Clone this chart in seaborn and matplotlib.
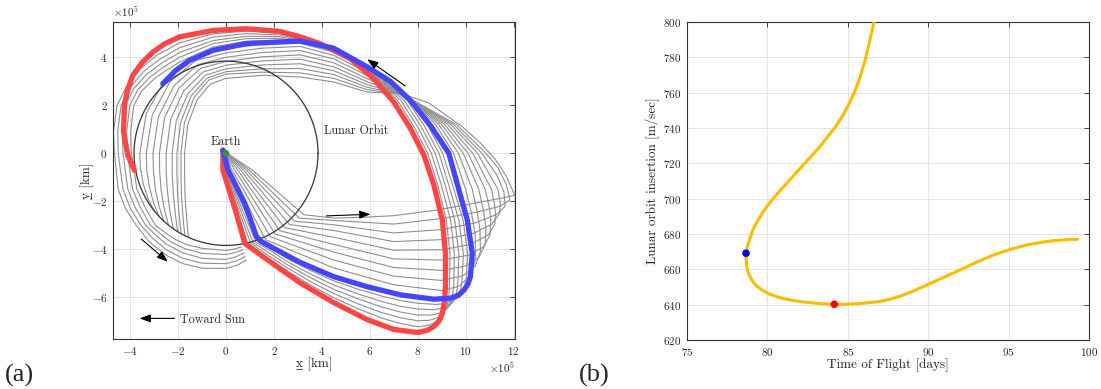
import numpy as np
import pandas as pd
import matplotlib
matplotlib.use("Agg")
import matplotlib.pyplot as plt
import seaborn as sns
from matplotlib.ticker import ScalarFormatter

# ---------------- panel (a): trajectories, units of 1e5 km ----------------
red_x = [-0.13, -0.13, 0.43, 0.78, 1.55, 2.52, 3.10, 4.49, 5.89, 7.00, 7.98, 8.40, 8.67, 8.90, 9.03,
         9.12, 9.16, 9.16, 9.03, 8.67, 8.26, 7.70, 7.00, 6.16, 5.19, 3.93, 3.10, 2.25, 0.85, -0.54,
         -1.94, -2.55, -3.05, -3.50, -3.89, -4.12, -4.24, -4.28, -4.10, -3.82]
red_y = [0.13, -0.70, -2.50, -3.75, -4.31, -5.00, -5.40, -6.22, -6.93, -7.34, -7.47, -7.38, -7.22, -6.98, -6.67,
         -6.15, -5.56, -4.17, -2.78, -1.30, -0.08, 1.03, 2.14, 3.11, 3.94, 4.57, 4.85, 5.08, 5.19, 5.12,
         4.85, 4.57, 4.22, 3.78, 3.25, 2.60, 2.00, 0.89, -0.08, -0.71]

blue_x = [-0.13, 0.08, 0.78, 1.27, 1.48, 2.25, 3.10, 4.49, 5.89, 7.28, 8.67, 9.37, 9.70, 9.93, 10.10, 10.20,
          10.28, 10.07, 9.72, 9.30, 8.54, 7.70, 6.86, 5.89, 4.49, 3.10, 2.25, 0.85, -0.54, -1.52, -2.10, -2.64]
blue_y = [0.13, -0.69, -2.08, -3.47, -3.68, -4.10, -4.55, -5.14, -5.56, -5.90, -6.08, -6.04, -5.92, -5.70, -5.45, -5.14,
          -4.17, -2.78, -1.53, 0.00, 1.15, 2.20, 3.00, 3.60, 4.38, 4.68, 4.64, 4.57, 4.29, 3.87, 3.45, 2.90]

gray_A1 = [(-0.10, 0.10), (-0.10, -0.70), (0.48, -2.45), (0.90, -3.74), (1.60, -4.30), (2.50, -4.86),
           (3.50, -5.48), (4.50, -6.02), (5.50, -6.47), (6.50, -6.87), (7.30, -7.10), (8.00, -7.23),
           (8.45, -7.17), (8.79, -7.02), (9.18, -6.51), (9.30, -6.00), (9.33, -5.49), (9.35, -4.20),
           (9.20, -2.80), (8.83, -1.30), (8.42, 0.00), (7.85, 1.10), (7.16, 2.20), (6.16, 3.17),
           (5.19, 3.95), (3.93, 4.55), (2.25, 5.00), (0.85, 5.09), (-0.54, 4.98), (-1.94, 4.60),
           (-2.90, 4.08), (-3.60, 3.50), (-4.15, 2.80), (-4.55, 2.00), (-4.70, 0.90), (-4.66, 0.00),
           (-4.50, -1.50), (-4.20, -2.30), (-3.75, -3.00), (-3.20, -3.70), (-2.50, -4.25), (-1.80, -4.60),
           (-1.00, -4.79), (0.00, -4.80), (0.50, -4.65), (0.85, -4.45)]
gray_A2 = [(-0.10, 0.10), (-0.07, -0.70), (0.54, -2.40), (1.02, -3.73), (1.70, -4.22), (2.50, -4.74),
           (3.50, -5.33), (4.50, -5.85), (5.50, -6.27), (6.50, -6.64), (7.30, -6.86), (8.00, -6.98),
           (8.50, -6.96), (8.90, -6.83), (9.33, -6.35), (9.46, -5.90), (9.51, -5.42), (9.53, -4.20),
           (9.38, -2.80), (8.98, -1.30), (8.57, 0.00), (8.00, 1.10), (7.30, 2.20), (6.16, 3.23),
           (5.19, 3.96), (3.93, 4.53), (2.25, 4.93), (0.85, 4.99), (-0.54, 4.84), (-1.94, 4.40),
           (-2.80, 3.90), (-3.45, 3.40), (-4.00, 2.75), (-4.38, 2.00), (-4.52, 0.90), (-4.50, 0.00),
           (-4.30, -1.50), (-4.00, -2.28), (-3.55, -3.00), (-3.05, -3.55), (-2.50, -4.02), (-1.80, -4.38),
           (-1.00, -4.58), (0.00, -4.60), (0.45, -4.48), (0.80, -4.30)]
gray_A3 = [(-0.10, 0.10), (-0.04, -0.70), (0.60, -2.35), (1.13, -3.72), (1.80, -4.15), (2.50, -4.61),
           (3.50, -5.17), (4.50, -5.67), (5.50, -6.06), (6.50, -6.41), (7.30, -6.62), (8.00, -6.74),
           (8.60, -6.74), (9.02, -6.63), (9.48, -6.19), (9.63, -5.78), (9.68, -5.35), (9.72, -4.20),
           (9.55, -2.80), (9.14, -1.30), (8.73, 0.00), (8.15, 1.10), (7.44, 2.20), (6.16, 3.29),
           (5.19, 3.97), (3.93, 4.51), (2.25, 4.86), (0.85, 4.88), (-0.54, 4.70), (-1.94, 4.20),
           (-2.70, 3.75), (-3.30, 3.30), (-3.85, 2.70), (-4.20, 2.00), (-4.33, 0.90), (-4.30, 0.00),
           (-4.10, -1.50), (-3.80, -2.25), (-3.35, -3.00), (-2.90, -3.45), (-2.50, -3.78), (-1.80, -4.15),
           (-1.00, -4.38), (0.00, -4.42), (0.40, -4.32), (0.75, -4.15)]
gray_A4 = [(-0.10, 0.10), (-0.01, -0.70), (0.66, -2.30), (1.25, -3.71), (1.90, -4.08), (2.50, -4.48),
           (3.50, -5.02), (4.50, -5.49), (5.50, -5.86), (6.50, -6.18), (7.30, -6.38), (8.00, -6.49),
           (8.70, -6.52), (9.14, -6.43), (9.63, -6.02), (9.80, -5.66), (9.85, -5.28), (9.91, -4.20),
           (9.72, -2.80), (9.29, -1.30), (8.89, 0.00), (8.30, 1.10), (7.57, 2.20), (6.16, 3.35),
           (5.19, 3.98), (3.93, 4.49), (2.25, 4.79), (0.85, 4.78), (-0.54, 4.57), (-1.94, 4.00),
           (-2.60, 3.60), (-3.15, 3.20), (-3.68, 2.65), (-4.02, 2.00), (-4.15, 0.90), (-4.12, 0.00),
           (-3.90, -1.50), (-3.58, -2.25), (-3.15, -3.00), (-2.75, -3.35), (-2.30, -3.70), (-1.70, -3.98),
           (-1.00, -4.17), (0.00, -4.22), (0.35, -4.15), (0.70, -4.02)]
gray_A5 = [(-0.10, 0.10), (0.02, -0.70), (0.72, -2.25), (1.36, -3.70), (2.00, -4.02), (2.50, -4.36),
           (3.50, -4.87), (4.50, -5.32), (5.50, -5.66), (6.50, -5.95), (7.30, -6.14), (8.00, -6.25),
           (8.80, -6.30), (9.25, -6.24), (9.78, -5.86), (9.95, -5.55), (10.03, -5.21), (10.09, -4.20),
           (9.90, -2.80), (9.45, -1.30), (9.04, 0.00), (8.45, 1.10), (7.71, 2.20), (6.16, 3.41),
           (5.19, 3.99), (3.93, 4.47), (2.25, 4.71), (0.85, 4.67), (-0.54, 4.43), (-1.94, 3.80),
           (-2.50, 3.45), (-3.00, 3.10), (-3.52, 2.60), (-3.85, 2.00), (-3.98, 0.90), (-3.95, 0.00),
           (-3.72, -1.50), (-3.38, -2.25), (-2.95, -3.00), (-2.55, -3.30), (-2.10, -3.60), (-1.60, -3.82),
           (-1.00, -3.96), (0.00, -4.05), (0.30, -4.00), (0.65, -3.90)]
gray_B1 = [(-0.10, 0.10), (0.15, -0.70), (1.65, -3.60), (4.50, -4.78), (7.00, -5.48), (9.00, -5.72),
           (9.70, -5.55), (10.20, -5.10), (10.42, -4.40), (10.40, -3.40), (10.25, -2.50), (10.00, -1.50),
           (9.50, 0.00), (8.75, 1.20), (7.60, 2.36), (5.89, 3.50), (4.50, 4.22), (3.10, 4.58), (1.50, 4.55),
           (0.00, 4.35), (-1.38, 4.02), (-2.55, 3.08), (-3.33, 1.66), (-3.60, 0.00), (-3.58, -0.60),
           (-3.45, -1.30), (-3.25, -1.90), (-3.00, -2.40)]
gray_B2 = [(-0.10, 0.10), (0.25, -0.70), (1.85, -3.48), (4.50, -4.45), (7.00, -5.12), (9.00, -5.30),
           (9.90, -5.10), (10.40, -4.70), (10.62, -4.10), (10.60, -3.20), (10.50, -2.50), (10.28, -1.50),
           (9.70, 0.00), (8.88, 1.20), (7.56, 2.37), (5.89, 3.37), (4.50, 4.08), (3.10, 4.45), (1.50, 4.38),
           (0.00, 4.18), (-1.28, 3.86), (-2.35, 2.96), (-3.08, 1.60), (-3.33, 0.00), (-3.31, -0.70),
           (-3.20, -1.40), (-3.03, -2.05), (-2.80, -2.62)]
gray_B3 = [(-0.10, 0.10), (0.37, -0.70), (2.05, -3.36), (4.50, -4.12), (7.00, -4.76), (9.00, -4.88),
           (10.00, -4.70), (10.55, -4.35), (10.82, -3.80), (10.85, -3.10), (10.75, -2.40), (10.55, -1.50),
           (9.90, 0.00), (9.00, 1.20), (7.52, 2.39), (5.89, 3.24), (4.50, 3.93), (3.10, 4.28), (1.50, 4.20),
           (0.00, 4.00), (-1.17, 3.70), (-2.16, 2.83), (-2.82, 1.53), (-3.05, 0.00), (-3.03, -0.75),
           (-2.95, -1.50), (-2.80, -2.20), (-2.60, -2.82)]
gray_B4 = [(-0.10, 0.10), (0.49, -0.70), (2.25, -3.23), (4.50, -3.80), (7.00, -4.40), (9.00, -4.45),
           (10.10, -4.25), (10.75, -3.90), (11.02, -3.40), (11.05, -2.80), (11.00, -2.30), (10.82, -1.50),
           (10.10, 0.00), (9.12, 1.20), (7.48, 2.40), (5.89, 3.11), (4.50, 3.77), (3.10, 4.10), (1.50, 4.02),
           (0.00, 3.83), (-1.06, 3.54), (-1.97, 2.71), (-2.57, 1.47), (-2.78, 0.00), (-2.77, -0.80),
           (-2.70, -1.60), (-2.57, -2.35), (-2.40, -3.00)]
gray_B5 = [(-0.10, 0.10), (0.61, -0.70), (2.45, -3.10), (4.50, -3.50), (7.00, -4.04), (9.00, -4.02),
           (10.20, -3.80), (10.95, -3.40), (11.22, -2.95), (11.25, -2.50), (11.20, -2.10), (11.08, -1.50),
           (10.30, 0.00), (9.25, 1.20), (7.45, 2.42), (5.89, 2.98), (4.50, 3.60), (3.10, 3.92), (1.50, 3.85),
           (0.00, 3.67), (-0.96, 3.39), (-1.77, 2.59), (-2.31, 1.41), (-2.50, 0.00), (-2.50, -0.80),
           (-2.44, -1.65), (-2.34, -2.45), (-2.20, -3.15)]
gray_B6 = [(-0.10, 0.10), (0.73, -0.70), (2.65, -2.97), (4.50, -3.22), (7.00, -3.68), (9.00, -3.60),
           (10.30, -3.35), (11.10, -2.95), (11.42, -2.50), (11.45, -2.10), (11.35, -1.50),
           (10.50, 0.00), (9.38, 1.20), (7.42, 2.43), (5.89, 2.86), (4.50, 3.44), (3.10, 3.73), (1.50, 3.68),
           (0.00, 3.52), (-0.86, 3.25), (-1.59, 2.49), (-2.08, 1.35), (-2.25, 0.00), (-2.25, -0.85),
           (-2.20, -1.70), (-2.12, -2.50), (-2.02, -3.27)]
gray_B7 = [(-0.10, 0.10), (0.85, -0.70), (2.85, -2.83), (4.50, -2.98), (7.00, -3.32), (9.00, -3.18),
           (10.40, -2.90), (11.30, -2.55), (11.65, -2.20), (11.60, -1.60), (11.30, -0.90),
           (10.68, 0.00), (9.50, 1.20), (7.39, 2.45), (5.89, 2.75), (4.50, 3.28), (3.10, 3.53), (1.50, 3.52),
           (0.00, 3.40), (-0.78, 3.14), (-1.45, 2.40), (-1.89, 1.30), (-2.05, 0.00), (-2.05, -0.90),
           (-2.02, -1.75), (-1.96, -2.55), (-1.87, -3.36)]
gray_B8 = [(-0.10, 0.10), (0.97, -0.70), (3.05, -2.70), (4.50, -2.80), (7.00, -2.95), (9.00, -2.72),
           (10.50, -2.45), (11.45, -2.20), (11.85, -1.95), (11.70, -1.30), (11.35, -0.60),
           (10.85, 0.00), (9.62, 1.20), (7.36, 2.46), (5.89, 2.65), (4.50, 3.12), (3.10, 3.35), (1.50, 3.38),
           (0.00, 3.30), (-0.72, 3.05), (-1.33, 2.33), (-1.74, 1.26), (-1.88, 0.00), (-1.88, -0.90),
           (-1.86, -1.80), (-1.80, -2.60), (-1.72, -3.44)]
gray_B9 = [(-0.10, 0.10), (1.10, -0.70), (3.25, -2.56), (4.50, -2.70), (5.90, -2.66), (7.00, -2.60),
           (8.70, -2.38), (10.00, -2.15), (10.90, -1.98), (11.60, -1.85), (12.05, -1.75), (11.70, -0.95),
           (11.26, -0.28), (10.60, 0.45), (9.86, 1.11), (8.46, 2.10), (7.33, 2.48), (5.89, 2.55),
           (4.50, 2.97), (3.10, 3.18), (1.50, 3.25), (0.00, 3.12), (-0.66, 2.88), (-1.22, 2.21),
           (-1.60, 1.19), (-1.73, 0.00), (-1.73, -0.90), (-1.71, -1.80), (-1.65, -2.65), (-1.57, -3.50)]
gray_tracks = [gray_A1, gray_A2, gray_A3, gray_A4, gray_A5, gray_B1, gray_B2, gray_B3,
               gray_B4, gray_B5, gray_B6, gray_B7, gray_B8, gray_B9]

lunar_orbit_radius = 3.84
earth_xy = (0.0, 0.0)

# arrows (tail, head), units of 1e5 km
arrow_tails = [(7.49, 2.80), (4.18, -2.61), (-3.54, -3.57), (-2.15, -6.88)]
arrow_heads = [(5.89, 3.92), (6.03, -2.54), (-2.43, -4.52), (-3.61, -6.88)]

# ---------------- panel (b) ----------------
tof_days = [86.63, 86.38, 86.10, 85.80, 85.50, 85.15, 84.75, 84.31, 83.27, 82.13, 81.20, 80.77, 80.38,
            80.02, 79.67, 79.36, 79.12, 78.95, 78.81, 78.72, 78.67, 78.68, 78.71, 78.83, 79.02, 79.30,
            79.65, 80.15, 80.78, 81.55, 82.44, 83.30, 84.16, 85.00, 85.96, 87.00, 87.60, 88.25, 89.00,
            89.91, 90.90, 91.98, 93.00, 94.05, 95.10, 96.13, 97.00, 97.78, 98.60, 99.30]
loi_ms = [800.0, 790.0, 779.0, 770.0, 762.0, 755.0, 748.0, 741.7, 729.4, 718.1, 708.7, 704.4, 700.3,
          696.2, 691.6, 687.0, 682.8, 678.4, 674.7, 671.8, 669.1, 665.2, 661.5, 657.5, 654.0, 650.8,
          648.3, 645.9, 643.9, 642.4, 641.3, 640.6, 640.2, 640.3, 640.8, 641.8, 643.0, 644.8, 647.4,
          651.1, 655.2, 659.6, 664.0, 668.1, 671.3, 673.8, 675.2, 676.2, 676.8, 677.0]
pt_tof = [78.67, 84.16]
pt_loi = [669.1, 640.2]
pt_colors = ["#0000ff", "#ff0000"]

# ---------------- style ----------------
sns.set_style("white")
plt.rcParams["font.family"] = ["cmr10", "DejaVu Serif"]
plt.rcParams["mathtext.fontset"] = "cm"
plt.rcParams["axes.unicode_minus"] = False
plt.rcParams["axes.formatter.use_mathtext"] = True

S = 1e5
fig = plt.figure(figsize=(11.01, 3.89), dpi=100)
axL = fig.add_axes([0.1026, 0.1285, 0.3651, 0.8149])
axR = fig.add_axes([0.624, 0.126, 0.3651, 0.8175])

line_kw = dict(sort=False, estimator=None, errorbar=None, legend=False)

rows = []
for i, tr in enumerate(gray_tracks):
    for j, (gx, gy) in enumerate(tr):
        rows.append({"x": gx * S, "y": gy * S, "track": i, "step": j})
df_gray = pd.DataFrame(rows)
sns.lineplot(data=df_gray, x="x", y="y", units="track", color="#8f8f8f", lw=0.8,
             ax=axL, zorder=2, solid_joinstyle="round", **line_kw)

theta = np.linspace(0, 2 * np.pi, 361)
orbit = pd.DataFrame({"x": lunar_orbit_radius * S * np.cos(theta),
                      "y": lunar_orbit_radius * S * np.sin(theta)})
sns.lineplot(data=orbit, x="x", y="y", color="#3c3c3c", lw=0.95, ax=axL, zorder=3, **line_kw)

red_df = pd.DataFrame({"x": np.array(red_x) * S, "y": np.array(red_y) * S})
blue_df = pd.DataFrame({"x": np.array(blue_x) * S, "y": np.array(blue_y) * S})
sns.lineplot(data=red_df, x="x", y="y", color="#ff4545", lw=3.8, ax=axL, zorder=4,
             solid_capstyle="round", solid_joinstyle="round", **line_kw)
sns.lineplot(data=blue_df, x="x", y="y", color="#4545ff", lw=3.8, ax=axL, zorder=5,
             solid_capstyle="round", solid_joinstyle="round", **line_kw)
sns.scatterplot(x=[earth_xy[0] * S], y=[earth_xy[1] * S], color="#2e9a3e", s=22,
                edgecolor="none", ax=axL, zorder=6)

for (tx, ty), (hx, hy) in zip(arrow_tails, arrow_heads):
    axL.annotate("", xy=(hx * S, hy * S), xytext=(tx * S, ty * S),
                 arrowprops=dict(arrowstyle="-|>,head_length=0.55,head_width=0.2", lw=0.8,
                                 color="black", shrinkA=0, shrinkB=0, mutation_scale=12), zorder=7)

axL.text(0.0, 0.22 * S, "Earth", ha="center", va="bottom", fontsize=8.7, zorder=8)
axL.text(5.44 * S, 0.93 * S, "Lunar Orbit", ha="center", va="center", fontsize=8.7, zorder=8)
axL.text(-1.92 * S, -6.95 * S, "Toward Sun", ha="left", va="center", fontsize=8.7, zorder=8)

axL.set_xlim(-4.72 * S, 12.06 * S)
axL.set_ylim(-7.74 * S, 5.47 * S)
axL.set_xticks(np.arange(-4, 13, 2) * S)
axL.set_yticks(np.arange(-6, 5, 2) * S)
for axis in (axL.xaxis, axL.yaxis):
    fmt = ScalarFormatter(useMathText=True)
    fmt.set_powerlimits((5, 5))
    axis.set_major_formatter(fmt)
axL.set_xlabel("x\u0332 [km]", fontsize=9.5, labelpad=1)
axL.set_ylabel("y\u0332 [km]", fontsize=9.5, labelpad=-1.5)

curve = pd.DataFrame({"tof": tof_days, "loi": loi_ms})
sns.lineplot(data=curve, x="tof", y="loi", color="#ffbb00", lw=2.2, ax=axR, zorder=3,
             solid_capstyle="round", solid_joinstyle="round", **line_kw)
sns.scatterplot(x=pt_tof, y=pt_loi, hue=[0, 1], palette=pt_colors, s=30, edgecolor="none",
                ax=axR, legend=False, zorder=4)
axR.set_xlim(75, 100)
axR.set_ylim(620, 800)
axR.set_xticks(np.arange(75, 101, 5))
axR.set_yticks(np.arange(620, 801, 20))
axR.set_xlabel("Time of Flight [days]", fontsize=9.5, labelpad=1)
axR.set_ylabel("Lunar orbit insertion [m/sec]", fontsize=9.5, labelpad=2)

for ax in (axL, axR):
    ax.grid(True, color="#e3e3e3", lw=0.7)
    ax.set_axisbelow(True)
    ax.tick_params(direction="in", length=3.5, width=0.6, top=True, right=True,
                   labelsize=8, pad=4, colors="#262626", labelcolor="#262626")
    for sp in ax.spines.values():
        sp.set_visible(True)
        sp.set_color("#333333")
        sp.set_linewidth(0.8)
axL.xaxis.get_offset_text().set_fontsize(8)
axL.yaxis.get_offset_text().set_fontsize(8)

fig.text(0.004, 0.036, "(a)", fontsize=19, family="Liberation Serif", va="center", ha="left")
fig.text(0.526, 0.036, "(b)", fontsize=19, family="Liberation Serif", va="center", ha="left")

fig.savefig("out.png", dpi=100)
